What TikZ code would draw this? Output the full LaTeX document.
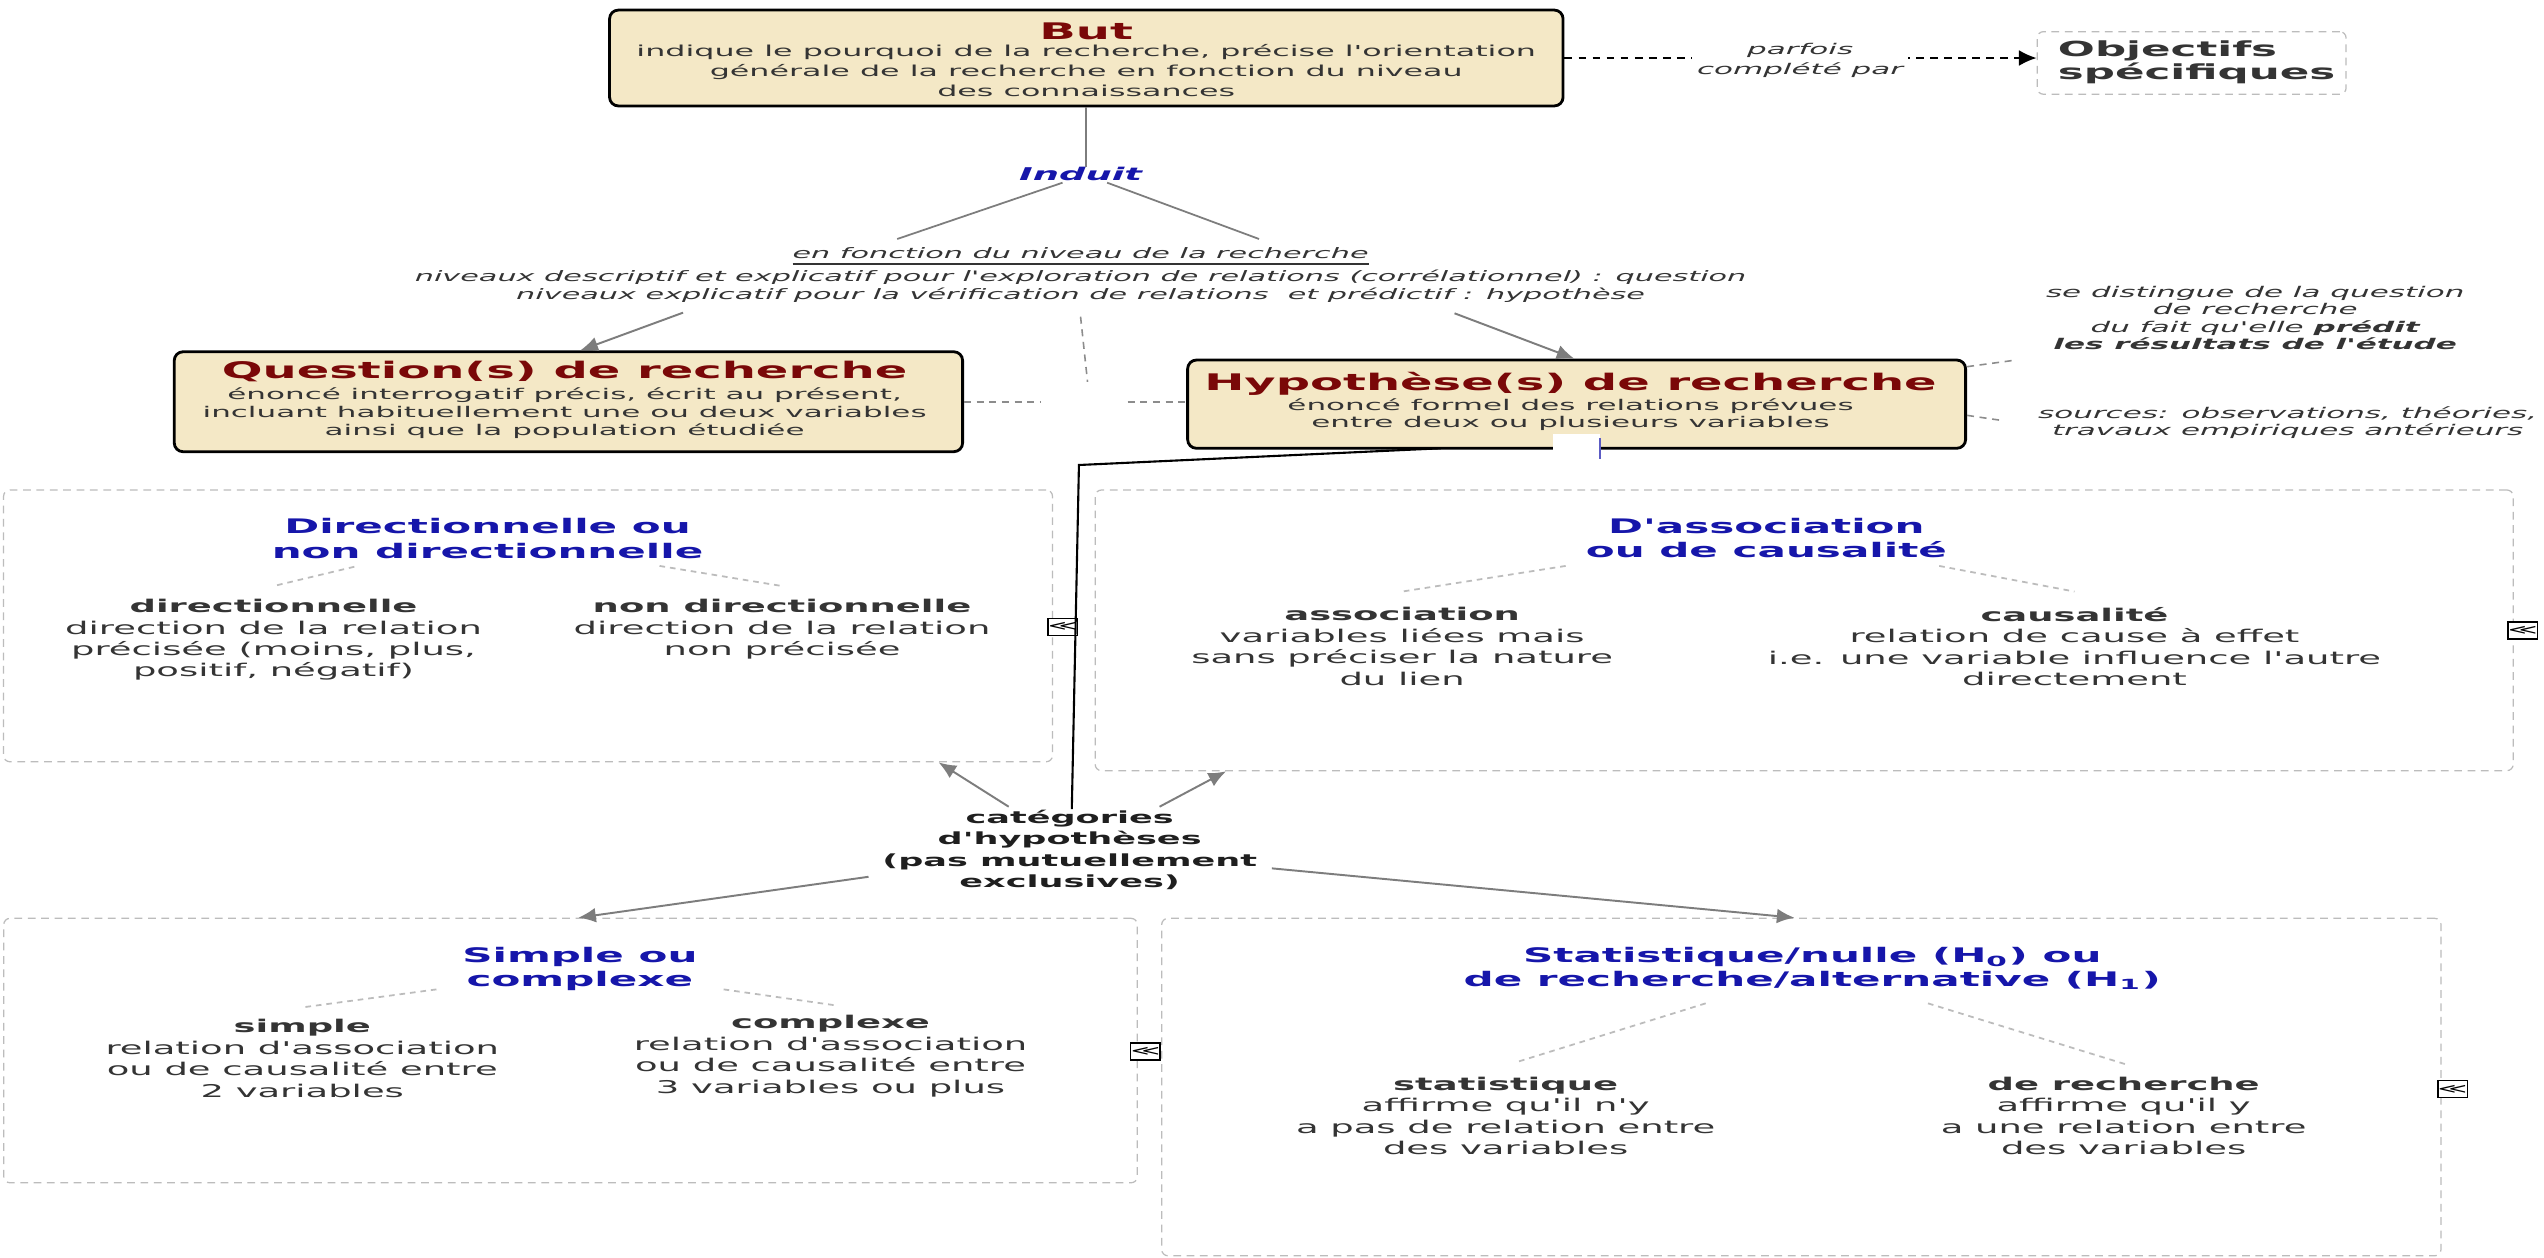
\documentclass[tikz,border=0pt]{standalone}
\usepackage{fontspec}
\setmainfont{DejaVu Sans}[FakeStretch=2.1, Ligatures=TeXOff]
\usetikzlibrary{fit,arrows.meta}
\definecolor{tanfill}{RGB}{244,232,198}
\definecolor{titlered}{RGB}{122,8,8}
\definecolor{tblue}{RGB}{22,22,170}
\definecolor{tgray}{RGB}{52,52,52}
\definecolor{boxgray}{RGB}{188,188,188}
\definecolor{lgray}{RGB}{140,140,140}
\definecolor{agray}{RGB}{125,125,125}
\newcommand\fsz[2]{\fontsize{#1}{#2}\selectfont}
\begin{document}
\begin{tikzpicture}[x=0.016224cm, y=-0.016224cm,
  tanbox/.style={draw=black, line width=0.8pt, fill=tanfill, rounded corners=2.5pt, inner sep=0pt},
  dbox/.style={draw=boxgray, dash pattern=on 2.2pt off 1.6pt, line width=0.35pt, rounded corners=1.8pt, inner sep=0pt},
  txt/.style={inner sep=0pt, align=center, text=tgray},
  rtitle/.style={txt, text=titlered, font=\bfseries\fsz{6.5}{7}},
  btitle/.style={txt, text=tblue, font=\bfseries\fsz{5.7}{7}},
  child/.style={txt, font=\fsz{5}{6.1}},
  gline/.style={draw=agray, line width=0.5pt},
  garrow/.style={draw=agray, line width=0.55pt, -{Latex[length=5pt,width=4.2pt]}},
  ddash/.style={draw=lgray, line width=0.45pt, dash pattern=on 2pt off 1.6pt},
  cdash/.style={draw=boxgray, line width=0.5pt, dash pattern=on 1.6pt off 1.4pt},
  icon/.style={draw=black, line width=0.4pt, fill=white, inner sep=0pt, minimum width=0.27cm, minimum height=0.17cm, font=\fsz{3.8}{4}, text=black}
]
\useasboundingbox[fill=white] (0,0) rectangle (1568,775);

% ---------- But ----------
\node[tanbox, fit={(375.7,6.2)(963.4,65.3)}] (but) {};
\node[rtitle] (butT) at (669.5,19.5) {But};
\node[txt, font=\fsz{4.3}{5.6}] (butB) at (669.5,43.5) {indique le pourquoi de la recherche, précise l'orientation\\générale de la recherche en fonction du niveau\\des connaissances};

% ---------- Objectifs ----------
\node[dbox, fit={(1255.6,19.5)(1446,58.1)}] (obj) {};
\node[txt, align=left, anchor=west, font=\bfseries\fsz{5.9}{6.65}] (objT) at (1268,38.5) {Objectifs\\spécifiques};
\draw[black, line width=0.5pt, dash pattern=on 2.2pt off 1.8pt, -{Latex[length=5pt,width=4.5pt]}] (but.east) -- (but.east -| obj.west);
\node[txt, fill=white, inner sep=1.5pt, font=\itshape\fsz{4.2}{5.7}] (parf) at (1109.5,37) {parfois\\complété par};

% ---------- Induit ----------
\node[txt, text=tblue, font=\bfseries\itshape\fsz{5}{6}] (induit) at (666,107.4) {Induit};
\draw[gline] (but.south) -- (but.south |- induit.north);
\node[txt, font=\itshape\fsz{4.1}{5.2}] (fonc) at (666,169.6) {\underline{en fonction du niveau de la recherche}\\niveaux descriptif et explicatif pour l'exploration de relations (corrélationnel) : question\\niveaux explicatif pour la vérification de relations\ \ et prédictif : hypothèse};
\coordinate (ia) at (654.9,112.6);
\coordinate (ib) at (682.4,112.6);
\coordinate (fa) at (553,147.3);
\coordinate (fb) at (776,147.3);
\draw[gline] (ia) -- (fa);
\draw[gline] (ib) -- (fb);

% ---------- Question ----------
\node[tanbox, fit={(107.4,216.8)(593.3,278.4)}] (quest) {};
\node[rtitle] (questT) at (348,229.1) {Question(s) de recherche};
\node[txt, font=\fsz{4.2}{5.1}] (questB) at (348,254.8) {énoncé interrogatif précis, écrit au présent,\\incluant habituellement une ou deux variables\\ainsi que la population étudiée};

% ---------- Hypothese ----------
\node[tanbox, fit={(732,221.9)(1211.5,276.3)}] (hyp) {};
\node[rtitle] (hypT) at (968,236.3) {Hypothèse(s) de recherche};
\node[txt, font=\fsz{4.2}{5}] (hypB) at (968,255.5) {énoncé formel des relations prévues\\entre deux ou plusieurs variables};
\fill[white] (957,267.5) rectangle (986,283);
\draw[tblue!70, line width=0.5pt] (986,270) -- (986,283);

\coordinate (fq) at (421,192.7);
\coordinate (fh) at (896.5,193.1);
\draw[garrow] (fq) -- (quest.north -| 357.7,0);
\draw[garrow] (fh) -- (hyp.north -| 970.3,0);

% dashed links Question -- Hypothese and from label
\coordinate (qh) at (670.3,247.6);
\draw[ddash] (fonc.south |- 0,195.2) -- (qh |- 0,235.3);
\draw[ddash] (quest.east |- qh) -- (641,247.6);
\draw[ddash] (695,247.6) -- (hyp.west |- qh);

% ---------- side notes ----------
\node[txt, font=\itshape\fsz{4.2}{5}] (dist) at (1390,196) {se distingue de la question\\de recherche\\du fait qu'elle \textbf{prédit}\\\textbf{les résultats de l'étude}};
\node[txt, font=\itshape\fsz{4.2}{5}] (src) at (1410,260.6) {sources: observations, théories,\\travaux empiriques antérieurs};
\draw[ddash] (hyp.east |- 0,226) -- (1242.6,221.9);
\draw[ddash] (hyp.east |- 0,256) -- (1232.8,259);

% ---------- Directionnelle ----------
\node[dbox, fit={(2.2,302)(648.7,469.5)}] (dir) {};
\node[btitle] (dirT) at (300.5,331.8) {Directionnelle ou\\non directionnelle};
\node[child] (dir1) at (168.6,394.4) {\textbf{directionnelle}\\direction de la relation\\précisée (moins, plus,\\positif, négatif)};
\node[child] (dir2) at (482,387.8) {\textbf{non directionnelle}\\direction de la relation\\non précisée};
\draw[cdash] (218.4,349.3) -- (168.6,361.2);
\draw[cdash] (406.5,348.8) -- (482,361.2);
\node[icon] (ic1) at (655,386.3) {≪};

% ---------- D'association ----------
\node[dbox, fit={(675,302)(1549,475)}] (assoc) {};
\node[btitle] (assocT) at (1088.7,331.7) {D'association\\ou de causalité};
\node[child] (as1) at (864.2,398.4) {\textbf{association}\\variables liées mais\\sans préciser la nature\\du lien};
\node[child] (as2) at (1278.6,398.4) {\textbf{causalité}\\relation de cause à effet\\i.e. une variable influence l'autre\\directement};
\draw[cdash] (965,348.8) -- (864.2,364.6);
\draw[cdash] (1195.2,348.8) -- (1278.6,364.6);
\node[icon] (ic2) at (1554.9,388.7) {≪};

% ---------- categories ----------
\node[txt, text=black!88, font=\bfseries\fsz{4.75}{6.1}] (cat) at (659.3,523.8) {catégories\\d'hypothèses\\(pas mutuellement\\exclusives)};
\coordinate (hb) at (888,276.3);
\coordinate (hk) at (665,286.6);
\draw[black, line width=0.6pt] (hb) -- (hk) -- (cat.north -| 660.6,0);

\coordinate (c1) at (621.7,497.2);
\coordinate (c2) at (714.7,497.2);
\coordinate (c3) at (535.3,540.4);
\coordinate (c4) at (783.9,535.2);
\draw[garrow] (c1) -- (dir.south -| 578.5,0);
\draw[garrow] (c2) -- (assoc.south -| 755.7,0);

% ---------- Simple ----------
\node[dbox, fit={(2.3,566)(701,729)}] (simp) {};
\node[btitle, font=\bfseries\fsz{5.7}{6.8}] (simpT) at (357.4,597) {Simple ou\\complexe};
\node[child] (s1) at (186.3,652.3) {\textbf{simple}\\relation d'association\\ou de causalité entre\\2 variables};
\node[child] (s2) at (511.9,650.9) {\textbf{complexe}\\relation d'association\\ou de causalité entre\\3 variables ou plus};
\draw[cdash] (269,609.8) -- (186.3,620.9);
\draw[cdash] (446,609.8) -- (514,619.5);
\node[icon] (ic3) at (706,648.2) {≪};

% ---------- Statistique ----------
\node[dbox, fit={(716,566)(1504.5,774)}] (stat) {};
\node[btitle, font=\bfseries\fsz{5.7}{6.8}] (statT) at (1117,597) {Statistique/nulle (H\textsubscript{0}) ou\\de recherche/alternative (H\textsubscript{1})};
\node[child] (st1) at (928,687.8) {\textbf{statistique}\\affirme qu'il n'y\\a pas de relation entre\\des variables};
\node[child] (st2) at (1308.9,687.8) {\textbf{de recherche}\\affirme qu'il y\\a une relation entre\\des variables};
\draw[cdash] (1051.3,618.4) -- (933.5,655);
\draw[cdash] (1188.3,618.4) -- (1311.6,656.4);
\node[icon] (ic4) at (1511.6,671.2) {≪};

\draw[garrow] (c3) -- (simp.north -| 356.4,0);
\draw[garrow] (c4) -- (stat.north -| 1106,0);
\end{tikzpicture}
\end{document}
